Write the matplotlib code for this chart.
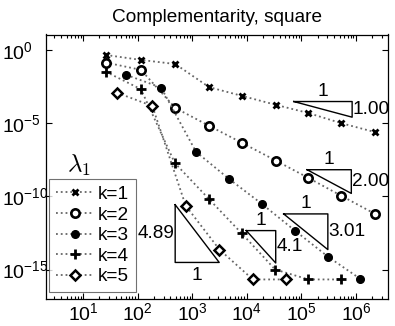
import numpy as np
import matplotlib
matplotlib.use("Agg")
import matplotlib.pyplot as plt
import matplotlib.transforms as mtransforms
from matplotlib.ticker import LogLocator, NullFormatter, FixedLocator

plt.rcParams['font.family'] = ['Liberation Sans', 'DejaVu Sans']
plt.rcParams['mathtext.fontset'] = 'custom'
plt.rcParams['mathtext.rm'] = 'Liberation Sans'
plt.rcParams['mathtext.it'] = 'Liberation Sans:italic'

# ---------------- data ----------------
title = "Complementarity, square"
labels = ["k=1", "k=2", "k=3", "k=4", "k=5"]

x_k1 = [26, 115, 490, 2040, 8300, 33900, 135000, 537000, 2190000]
y_k1 = [4.6e-1, 2.1e-1, 1.1e-1, 2.9e-3, 7.2e-4, 1.8e-4, 4.9e-5, 1.0e-5, 2.5e-6]

x_k2 = [26, 115, 490, 2040, 8300, 33900, 135000, 537000, 2190000]
y_k2 = [1.4e-1, 4.4e-2, 1.1e-4, 6.6e-6, 4.4e-7, 2.8e-8, 1.8e-9, 1.1e-10, 6.6e-12]

x_k3 = [62, 270, 1175, 4680, 19000, 75900, 309000, 1200000]
y_k3 = [2.0e-2, 2.7e-3, 1.1e-7, 1.6e-9, 3.0e-11, 4.6e-13, 7.4e-15, 2.3e-16]

x_k4 = [26, 115, 480, 2000, 8100, 33100, 135000, 537000]
y_k4 = [3.3e-2, 2.1e-3, 1.9e-8, 6.9e-11, 2.9e-13, 1.0e-15, 2.1e-16, 2.1e-16]

x_k5 = [42, 186, 760, 3160, 12900, 51300]
y_k5 = [1.2e-3, 1.5e-4, 2.3e-11, 2.3e-14, 2.1e-16, 2.1e-16]

x_ticks = [1e1, 1e2, 1e3, 1e4, 1e5, 1e6]
x_exps = ["1", "2", "3", "4", "5", "6"]
y_ticks = [1e0, 1e-5, 1e-10, 1e-15]
y_exps = ["0", "\u22125", "\u221210", "\u221215"]

# slope triangles: (log10 x0, log10 y at corner, width in decades), slope labels
tri_x0 = [4.86, 5.105, 4.675, 3.99, 2.688]
tri_y0 = [-3.52, -8.18, -11.20, -12.34, -10.57]
tri_w = [1.07, 0.81, 0.81, 0.54, 0.807]
tri_slope = [1.00, 2.00, 3.01, 4.1, 4.89]
tri_text = ["1.00", "2.00", "3.01", "4.1", "4.89"]

# ---------------- figure ----------------
W, H = 395, 326
fig = plt.figure(figsize=(W / 100, H / 100), dpi=100)
ax = fig.add_axes([45.7 / W, (H - 298.5) / H, 342.3 / W, 264.0 / H])

fs = 14
fs_small = 13.7
styles = [
    dict(marker='x', ms=5, mew=2.0, mfc='k'),
    dict(marker='o', ms=6, mew=1.9, mfc='white'),
    dict(marker='o', ms=5.5, mew=1.0, mfc='k'),
    dict(marker='+', ms=6.5, mew=2.0, mfc='k'),
    dict(marker='D', ms=4.8, mew=1.8, mfc='white'),
]
xs = [x_k1, x_k2, x_k3, x_k4, x_k5]
ys = [y_k1, y_k2, y_k3, y_k4, y_k5]
handles = []
for xv, yv, st, lab in zip(xs, ys, styles, labels):
    h, = ax.plot(xv, yv, linestyle=':', color='0.4', lw=1.3, mec='k',
                 label=lab, **st)
    handles.append(h)

ax.set_xscale('log')
ax.set_yscale('log')
ax.set_xlim(10 ** 0.316, 10 ** 6.587)
ax.set_ylim(10 ** -16.98, 10 ** 1.06)

ax.xaxis.set_major_locator(FixedLocator(x_ticks))
ax.set_xticklabels([r'$\mathregular{10^{%s}}$' % e for e in x_exps])
ax.xaxis.set_minor_locator(LogLocator(base=10, subs=np.arange(2, 10), numticks=30))
ax.xaxis.set_minor_formatter(NullFormatter())
ax.yaxis.set_major_locator(FixedLocator(y_ticks))
ax.yaxis.set_minor_locator(FixedLocator([]))
ax.set_yticklabels([])
ax.tick_params(which='both', direction='in', top=True, right=True,
               labelsize=fs, width=0.8)
ax.tick_params(which='major', length=4)
ax.tick_params(which='minor', length=2)
ax.tick_params(axis='x', pad=2.5)
for s in ax.spines.values():
    s.set_linewidth(0.9)

# y tick labels: base "10" left aligned near figure edge (MATLAB style)
ytrans = mtransforms.blended_transform_factory(fig.transFigure, ax.transData)
ytrans = mtransforms.offset_copy(ytrans, fig=fig, x=0, y=-9.0 * 0.72, units='points')
for t, e in zip(y_ticks, y_exps):
    ax.text(2.0 / W, t, r'$\mathregular{10^{%s}}$' % e, transform=ytrans,
            ha='left', va='baseline', fontsize=fs, clip_on=False)

ax.set_title(title, fontsize=fs_small, pad=9)

# slope triangles
for i in range(5):
    x0, y0, w, sl = tri_x0[i], tri_y0[i], tri_w[i], tri_slope[i]
    h = sl * w
    if i < 4:
        px = [x0, x0 + w, x0 + w, x0]
        py = [y0, y0, y0 - h, y0]
        ax.plot(10 ** np.array(px), 10 ** np.array(py), color='k', lw=1.0)
        ax.text(10 ** (x0 + w / 2), 10 ** (y0 + 0.12), "1", ha='center',
                va='bottom', fontsize=fs_small)
        ax.text(10 ** (x0 + w + 0.01), 10 ** (y0 - h / 2), tri_text[i],
                ha='left', va='center', fontsize=fs_small)
    else:
        px = [x0, x0, x0 + w, x0]
        py = [y0, y0 - h, y0 - h, y0]
        ax.plot(10 ** np.array(px), 10 ** np.array(py), color='k', lw=1.0)
        ax.text(10 ** (x0 - 0.02), 10 ** (y0 - h / 2), tri_text[i],
                ha='right', va='center', fontsize=fs_small)
        ax.text(10 ** (x0 + w / 2), 10 ** (y0 - h - 0.3), "1", ha='center',
                va='top', fontsize=fs_small)

leg = ax.legend(handles=handles, loc='upper left', bbox_to_anchor=(0.0105, 0.452),
                borderaxespad=0, fontsize=fs_small, frameon=True, fancybox=False,
                edgecolor='0.3', handlelength=2.0, handletextpad=0.2,
                labelspacing=0.17, borderpad=0.35)
leg.get_frame().set_linewidth(0.8)

ax.text(0.097, 0.505, r'$\lambda_1$', transform=ax.transAxes, fontsize=18,
        ha='center', va='center', math_fontfamily='cm')

fig.savefig('out.png', dpi=100)
